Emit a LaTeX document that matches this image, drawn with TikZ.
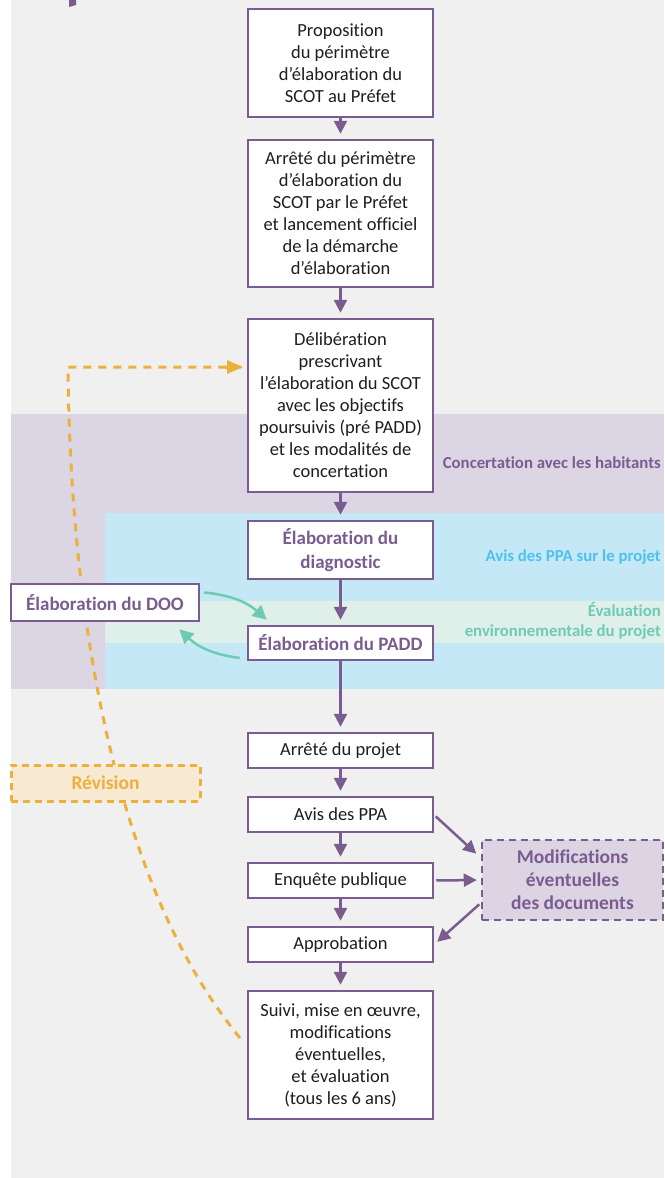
\documentclass[tikz,border=0pt]{standalone}
\usepackage{fontspec}
\setmainfont{Carlito}[Ligatures=NoCommon]
\usetikzlibrary{arrows.meta,calc}
\definecolor{bggray}{RGB}{240,240,240}
\definecolor{pline}{RGB}{122,92,145}
\definecolor{pband}{RGB}{220,214,228}
\definecolor{bband}{RGB}{197,232,247}
\definecolor{gband}{RGB}{223,240,234}
\definecolor{btext}{RGB}{78,193,238}
\definecolor{teal}{RGB}{109,203,181}
\definecolor{orng}{RGB}{235,176,62}
\definecolor{ofill}{RGB}{248,233,211}
\definecolor{mfill}{RGB}{220,211,227}
\definecolor{txt}{RGB}{30,30,30}
\tikzset{
  box/.style={draw=pline, line width=2.5pt, fill=white, align=center, text=txt,
    minimum width=185pt, inner sep=0pt, font=\fontsize{18.5}{22}\selectfont},
  bbox/.style={box, text=pline, font=\fontsize{19}{24}\selectfont\bfseries},
  parrow/.style={draw=pline, line width=2.5pt, -{Triangle[length=13pt,width=13pt]}, shorten >=5pt},
  tarrow/.style={draw=teal, line width=2.5pt, -{Triangle[length=14pt,width=14pt]}},
  bandlabel/.style={anchor=east, align=right, inner sep=0pt, font=\fontsize{16.8}{20}\selectfont\bfseries}
}
\begin{document}
\begin{tikzpicture}[x=1pt,y=-1pt]
\useasboundingbox (0,0) rectangle (664,1178);
% background
\fill[white] (0,0) rectangle (664,1178);
\fill[bggray] (11,0) rectangle (664,1178);
\fill[pline] (69,0) -- (76,0) -- (76,5) -- (69,7) -- cycle;
% bands
\fill[pband] (11,414) rectangle (664,689);
\fill[bband] (105,513) rectangle (664,689);
\fill[gband] (105,601) rectangle (664,643);
\node[bandlabel, text=pline] (lconc) at (661,463) {Concertation avec les habitants};
\node[bandlabel, text=btext] (lavis) at (661,557) {Avis des PPA sur le projet};
\node[bandlabel, text=teal] (leval) at (661,621) {Évaluation\\environnementale du projet};
% revision curve
\coordinate (cs) at (240,1038);
\coordinate (cc) at (68,367);
\coordinate (ce) at (243,367);
\draw[orng, line width=3pt, dash pattern=on 8pt off 7pt] (cs) .. controls (110,880) and (70,600) .. (cc) -- (ce);
\draw[orng, line width=3pt, -{Triangle[length=16pt,width=13pt]}] (225,367) -- (ce);
% boxes
\node[box, minimum height=108pt] (n1) at (340.5,63) {Proposition\\du périmètre\\d’élaboration du\\SCOT au Préfet};
\node[box, minimum height=147pt] (n2) at (340.5,213.5) {Arrêté du périmètre\\d’élaboration du\\SCOT par le Préfet\\et lancement officiel\\de la démarche\\d’élaboration};
\node[box, minimum height=173pt] (n3) at (340.5,405.5) {Délibération\\prescrivant\\l’élaboration du SCOT\\avec les objectifs\\poursuivis (pré PADD)\\et les modalités de\\concertation};
\node[bbox, minimum height=58pt] (n4) at (340.5,550) {Élaboration du\\diagnostic};
\node[bbox, minimum height=34pt] (n5) at (340.5,643) {Élaboration du PADD};
\node[bbox, minimum width=188pt, minimum height=37pt] (doo) at (105,602.5) {Élaboration du DOO};
\node[box, minimum height=35pt] (n6) at (340.5,750.5) {Arrêté du projet};
\node[box, minimum height=35pt] (n7) at (340.5,814.5) {Avis des PPA};
\node[box, minimum height=35pt] (n8) at (340.5,880.5) {Enquête publique};
\node[box, minimum height=35pt] (n9) at (340.5,944.5) {Approbation};
\node[box, minimum height=128pt] (n10) at (340.5,1055) {Suivi, mise en œuvre,\\modifications\\éventuelles,\\et évaluation\\(tous les 6 ans)};
\node[draw=orng, fill=ofill, line width=3pt, dash pattern=on 7pt off 5pt, minimum width=189pt, minimum height=36pt, inner sep=0pt,
  text=orng, font=\fontsize{19.5}{24}\selectfont\bfseries] (rev) at (105.5,783) {Révision};
\node[draw=pline, fill=mfill, line width=2.5pt, dash pattern=on 7pt off 5pt, minimum width=181pt, minimum height=80pt, inner sep=0pt,
  align=center, text=pline, font=\fontsize{19.5}{23}\selectfont\bfseries] (mod) at (572.5,880) {Modifications\\éventuelles\\des documents};
% purple arrows
\draw[parrow] (n1) -- (n2);
\draw[parrow] (n2) -- (n3);
\draw[parrow] (n3) -- (n4);
\draw[parrow] (n4) -- (n5);
\draw[parrow] (n5) -- (n6);
\draw[parrow] (n6) -- (n7);
\draw[parrow] (n7) -- (n8);
\draw[parrow] (n8) -- (n9);
\draw[parrow] (n9) -- (n10);
\draw[parrow, shorten >=2pt, shorten <=2pt] (n7.east |- 0,815) -- ($(mod.west)+(-3,-25)$);
\draw[parrow, shorten >=4pt, shorten <=2pt] (n8.east) -- (mod.west);
\draw[parrow, shorten >=4pt, shorten <=2pt] ($(mod.west)+(0,23)$) -- ($(n9.east)+(0,0)$);
% teal arrows
\draw[tarrow] ($(doo.east)+(4,-10)$) to[bend left=18] ($(n5.north west)+(20,-5)$);
\draw[tarrow] ($(n5.west)+(-7,15)$) to[bend left=18] ($(doo.south east)+(-21,7)$);
\end{tikzpicture}
\end{document}
